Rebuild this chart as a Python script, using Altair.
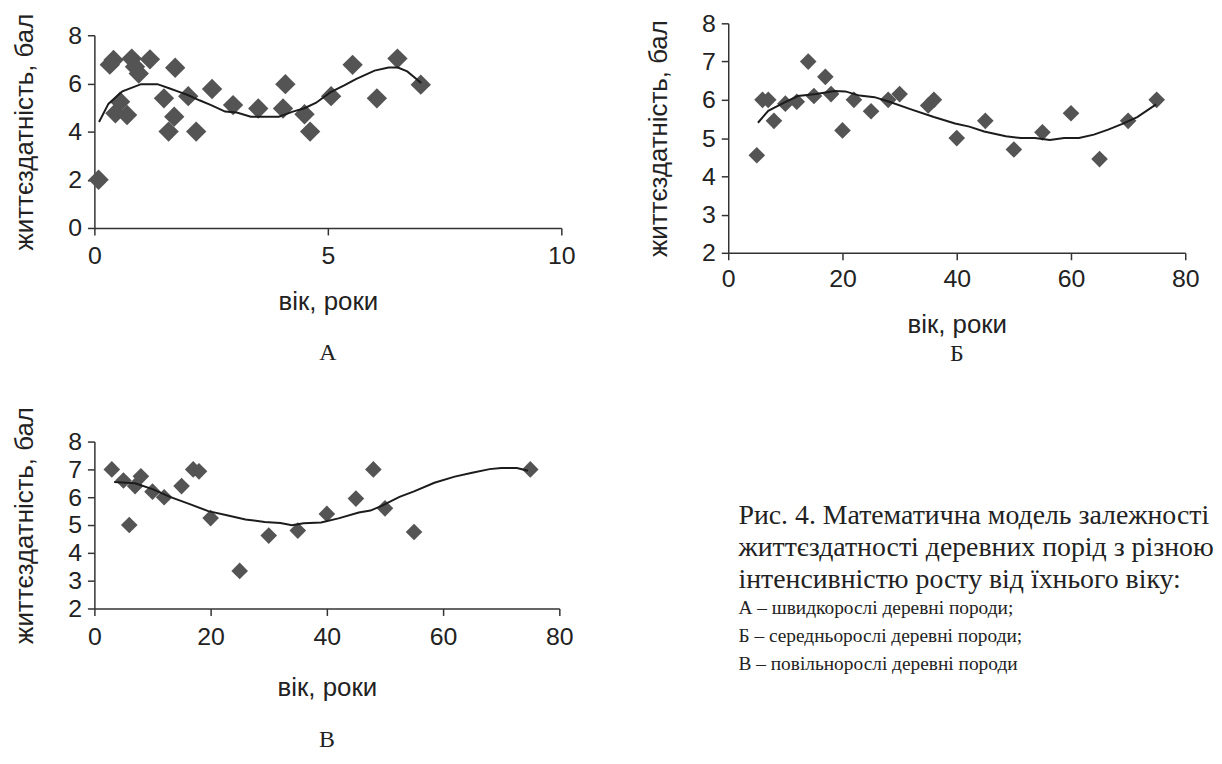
import altair as alt
import pandas as pd

# Panel A
a_age = [0.09, 0.33, 0.41, 0.45, 0.55, 0.7, 0.8, 0.87, 0.95, 1.19, 1.49, 1.59, 1.71, 1.73, 2.01, 2.18, 2.52, 2.97, 3.51, 4.04, 4.09, 4.5, 4.62, 5.07, 5.53, 6.05, 6.49, 6.99]
a_val = [2.0, 6.78, 6.97, 4.76, 5.24, 4.69, 7.03, 6.69, 6.41, 7.0, 5.38, 4.0, 4.62, 6.65, 5.47, 4.0, 5.77, 5.1, 4.96, 4.96, 5.97, 4.72, 4.0, 5.47, 6.77, 5.38, 7.03, 5.95]
a_line_x = [0.1, 0.3, 0.6, 1.0, 1.35, 1.6, 1.8, 2.0, 2.25, 2.5, 2.8, 3.05, 3.35, 3.95, 4.25, 4.5, 4.75, 5.05, 5.35, 5.6, 6.0, 6.3, 6.5, 6.7, 7.0]
a_line_y = [4.4, 5.15, 5.67, 5.97, 5.97, 5.8, 5.66, 5.52, 5.3, 5.1, 4.83, 4.79, 4.62, 4.62, 4.83, 4.97, 5.2, 5.63, 5.92, 6.18, 6.53, 6.66, 6.66, 6.5, 6.02]

# Panel B
b_age = [5, 6, 7, 8, 10, 12, 14, 15, 17, 18, 20, 22, 25, 28, 30, 35, 36, 40, 45, 50, 55, 60, 65, 70, 75]
b_val = [4.55, 6.0, 6.0, 5.45, 5.9, 5.95, 7.0, 6.1, 6.6, 6.15, 5.2, 6.0, 5.7, 6.0, 6.15, 5.85, 6.0, 5.0, 5.45, 4.7, 5.15, 5.65, 4.45, 5.45, 6.0]
b_line_x = [5.2, 7, 9.7, 12.2, 15.4, 18.6, 20.5, 23, 25.6, 28.2, 32, 36, 39.7, 42.2, 44.8, 48.6, 51.2, 53.7, 56.3, 58.8, 61.4, 64, 66.5, 69, 71.6, 74.9]
b_line_y = [5.40, 5.71, 5.92, 6.1, 6.15, 6.23, 6.22, 6.11, 6.07, 5.95, 5.75, 5.55, 5.38, 5.3, 5.17, 5.05, 5.0, 5.0, 4.95, 5.0, 5.0, 5.09, 5.22, 5.37, 5.55, 5.88]

# Panel C
c_age = [3, 5, 6, 7, 8, 10, 12, 15, 17, 18, 20, 25, 30, 35, 40, 45, 48, 50, 55, 75]
c_val = [7.0, 6.6, 5.0, 6.4, 6.75, 6.2, 6.0, 6.4, 7.0, 6.93, 5.25, 3.35, 4.62, 4.8, 5.4, 5.95, 7.0, 5.6, 4.75, 7.0]
c_line_x = [3.4, 7, 10, 13, 16.3, 19.6, 22.8, 26, 29.3, 32, 34, 36, 39, 42, 45.5, 47.5, 49.5, 52.5, 55, 58.5, 62, 65, 68, 70, 72.7, 74.6]
c_line_y = [6.55, 6.5, 6.29, 6.01, 5.76, 5.5, 5.35, 5.2, 5.11, 5.07, 4.99, 5.06, 5.09, 5.24, 5.45, 5.52, 5.7, 6.01, 6.21, 6.52, 6.74, 6.88, 7.01, 7.05, 7.05, 6.95]

x_title = "вік, роки"
y_title = "життєздатність, бал"
caption_main = ["Рис. 4. Математична модель залежності",
                "життєздатності деревних порід  з різною",
                "інтенсивністю росту від їхнього віку:"]
caption_items = ["А – швидкорослі деревні породи;",
                 "Б – середньорослі деревні породи;",
                 "В – повільнорослі деревні породи"]

SANS = "Liberation Sans"
SERIF = "Liberation Serif"


def panel(px, py, lx, ly, xdom, xvals, ydom, yvals, w, h, letter, size,
          title_offset, x_label_pad, x_title_pad):
    pts = pd.DataFrame({"x": px, "y": py})
    ln = pd.DataFrame({"x": lx, "y": ly})
    xe = alt.X("x:Q", scale=alt.Scale(domain=xdom, nice=False, zero=False),
               axis=alt.Axis(values=xvals, title=x_title, format="d",
                             labelPadding=x_label_pad, titlePadding=x_title_pad))
    ye = alt.Y("y:Q", scale=alt.Scale(domain=ydom, nice=False, zero=False),
               axis=alt.Axis(values=yvals, title=y_title, format="d"))
    p = alt.Chart(pts).mark_point(shape="diamond", filled=True, color="#545454",
                                  opacity=1, size=size).encode(x=xe, y=ye)
    l = alt.Chart(ln).mark_line(color="#1c1c1c", strokeWidth=2).encode(x=xe, y=ye)
    return alt.layer(p, l).properties(
        width=w, height=h,
        title=alt.TitleParams(letter, orient="bottom", font=SERIF, fontSize=24,
                              fontWeight="normal", color="#222222", offset=title_offset))


A = panel(a_age, a_val, a_line_x, a_line_y, [0, 10], [0, 5, 10], [0, 8], [0, 2, 4, 6, 8],
          470, 194, "А", 420, 27, 9, 20)
B = panel(b_age, b_val, b_line_x, b_line_y, [0, 80], [0, 20, 40, 60, 80], [2, 8],
          [2, 3, 4, 5, 6, 7, 8], 460, 231, "Б", 280, 5, 7, 20)
C = panel(c_age, c_val, c_line_x, c_line_y, [0, 80], [0, 20, 40, 60, 80], [2, 8],
          [2, 3, 4, 5, 6, 7, 8], 468, 168, "В", 280, 27, 9, 26)

spacer = alt.Chart(pd.DataFrame({"x": [0]})).mark_point(opacity=0).encode(
    x=alt.value(0), y=alt.value(0)).properties(width=1, height=12)

caption = alt.Chart(pd.DataFrame({"x": [0]})).mark_point(opacity=0).encode(
    x=alt.value(0), y=alt.value(0)).properties(
    width=470, height=30,
    title=alt.TitleParams(caption_main, subtitle=caption_items, orient="bottom",
                          anchor="start", font=SERIF, fontSize=28, fontWeight="normal",
                          lineHeight=32, color="#222222", subtitleFont=SERIF,
                          subtitleFontSize=19.5, subtitleLineHeight=28,
                          subtitleColor="#222222", subtitlePadding=6, offset=31))

row1 = alt.hconcat(alt.vconcat(spacer, A, spacing=0, bounds="flush"), B, spacing=71)
row2 = alt.hconcat(C, caption, spacing=166)
chart = alt.vconcat(row1, row2, spacing=40).properties(
    padding={"left": 12, "top": 9, "right": 0, "bottom": 0}
).configure_view(stroke=None).configure_axis(
    grid=False, domainColor="#333333", domainWidth=1.5, tickColor="#333333",
    tickWidth=1.5, tickSize=7, labelFont=SANS, labelFontSize=25, labelColor="#222222",
    labelPadding=6, titleFont=SANS, titleFontSize=26, titleFontWeight="normal",
    titleColor="#222222", labelFlush=False, labelOverlap=False
).configure_axisY(titlePadding=30)

chart.save("out.html", embed_options={"renderer": "svg", "actions": False})
